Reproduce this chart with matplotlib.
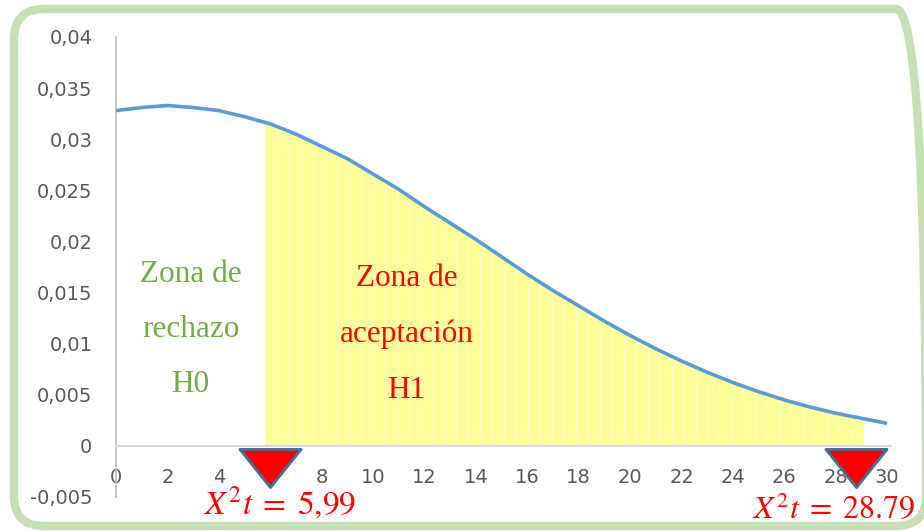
import numpy as np
import matplotlib.pyplot as plt
from matplotlib.patches import FancyBboxPatch, Rectangle
from matplotlib.path import Path

# curve values (density vs x)
x_vals = list(range(0, 31))
y_vals = [0.0328, 0.0331, 0.0333, 0.0331, 0.0328, 0.0322, 0.0315, 0.0305,
          0.0293, 0.0281, 0.0266, 0.0251, 0.0234, 0.0218, 0.0202, 0.0185,
          0.0168, 0.0152, 0.0137, 0.0122, 0.0108, 0.0095, 0.0083, 0.0072,
          0.0062, 0.0053, 0.0045, 0.0038, 0.0032, 0.0027, 0.0022]

# shaded zone and critical values
zone_start, zone_end = 5.8, 29.05
crit_vals = [5.99, 28.79]
crit_labels = ["$X^2t\\;=\\;5{,}99$", "$X^2t\\;=\\;28.79$"]

x_ticks = list(range(0, 31, 2))
y_ticks = [-0.005, 0, 0.005, 0.01, 0.015, 0.02, 0.025, 0.03, 0.035, 0.04]
y_tick_labels = ["-0,005", "0", "0,005", "0,01", "0,015", "0,02", "0,025",
                 "0,03", "0,035", "0,04"]

plt.rcParams['mathtext.fontset'] = 'stix'

fig = plt.figure(figsize=(9.24, 5.31), dpi=100)
ax = fig.add_axes([116/924, 34/531, 775/924, 460/531])

# rounded green frame (right edge runs off the image)
frame = FancyBboxPatch((0.14, 0.05), 9.12, 5.17,
                       boxstyle="round,pad=0,rounding_size=0.3",
                       transform=fig.dpi_scale_trans, fill=False,
                       edgecolor="#C5E0B4", linewidth=6, zorder=0)
fig.patches.append(frame)

# yellow area under curve, clipped to the zone
fill = ax.fill_between(x_vals, 0, y_vals, color="#FFFF99", lw=0, zorder=1)
clip = Rectangle((zone_start, -0.005), zone_end - zone_start, 0.05,
                 transform=ax.transData)
fill.set_clip_path(clip)
for xv in np.arange(zone_start + 0.47, zone_end, 0.465):
    ln = ax.axvline(xv, color="white", lw=0.5, alpha=0.7, zorder=1.5)
    ln.set_clip_path(clip)
ax.plot(x_vals, y_vals, color="#5B9BD5", lw=2.6, zorder=3,
        solid_capstyle="butt", solid_joinstyle="round")

# triangles at critical values
tri = Path([(-0.8, 0.5), (0.8, 0.5), (0, -0.5), (-0.8, 0.5)],
           [Path.MOVETO, Path.LINETO, Path.LINETO, Path.CLOSEPOLY])
ax.plot(crit_vals, [-0.00215] * 2, ls="none", marker=tri, markersize=44,
        markerfacecolor="red", markeredgecolor="#41719C",
        markeredgewidth=2, zorder=6, clip_on=False)

ax.text(crit_vals[0] + 0.4, -0.0056, crit_labels[0], color="red",
        fontsize=24, ha="center", va="center", zorder=7, clip_on=False)
ax.text(crit_vals[1] - 0.85, -0.0063, crit_labels[1], color="red",
        fontsize=23, ha="center", va="center", zorder=7, clip_on=False)

# zone labels
serif = "Liberation Serif"
for i, s in enumerate(["Zona de", "rechazo", "H0"]):
    ax.text(2.9, 0.0168 - i * 0.0054, s, color="#70AD47", fontsize=22.5,
            family=serif, ha="center", va="center", zorder=5)
for i, s in enumerate(["Zona de", "aceptación", "H1"]):
    ax.text(11.3, 0.0164 - i * 0.0055, s, color="red", fontsize=22.5,
            family=serif, ha="center", va="center", zorder=5)

ax.set_xlim(0, 30.15)
ax.set_ylim(-0.005, 0.04)
ax.set_xticks(x_ticks)
ax.set_yticks(y_ticks)
ax.set_yticklabels(y_tick_labels)
ax.spines['top'].set_visible(False)
ax.spines['right'].set_visible(False)
ax.spines['bottom'].set_position(('data', 0))
ax.spines['bottom'].set_color("#D9D9D9")
ax.spines['left'].set_color("#BFBFBF")
ax.spines['bottom'].set_linewidth(1.5)
ax.spines['left'].set_linewidth(1.2)
ax.tick_params(axis='both', length=0, labelsize=14, labelcolor="#595959")
ax.tick_params(axis='x', pad=16)
ax.tick_params(axis='y', pad=17)

fig.savefig("out.png", dpi=100)
